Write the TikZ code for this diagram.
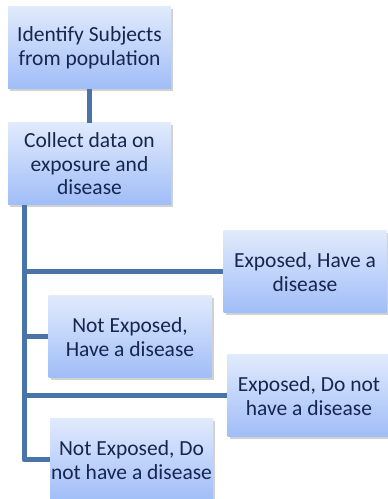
\documentclass[tikz,border=0pt]{standalone}
\usepackage{fontspec}
\setmainfont{Carlito}
\usetikzlibrary{shadows}
\definecolor{linec}{HTML}{4A73A8}
\definecolor{boxtop}{HTML}{E0EAFC}
\definecolor{boxbot}{HTML}{A0BDF8}
\definecolor{txt}{HTML}{17264F}
\tikzset{
  box/.style={draw=none, top color=boxtop, bottom color=boxbot,
    minimum width=163pt, minimum height=82pt, inner sep=1pt,
    align=center, text=txt,
    font=\fontsize{21.5pt}{23.5pt}\selectfont,
    drop shadow={shadow xshift=2pt, shadow yshift=-2pt, opacity=0.3, fill=black!60}},
  conn/.style={draw=linec, line width=5pt, line join=round}
}
\begin{document}
\begin{tikzpicture}[x=1pt,y=1pt]
\useasboundingbox (0,0) rectangle (388,499);
\node[box] (b1) at (89.5,451) {Identify Subjects\\from population};
\node[box] (b2) at (89.5,335) {Collect data on\\exposure and\\disease};
\node[box] (b3) at (305,227) {Exposed, Have a\\disease};
\node[box] (b4) at (130,162) {Not Exposed,\\Have a disease};
\node[box] (b5) at (309,103) {Exposed, Do not\\have a disease};
\node[box] (b6) at (131.5,39) {Not Exposed, Do\\not have a disease};
\coordinate (t) at (24,0);
\draw[conn] (b1.south) -- (b2.north);
\draw[conn] (b2.south -| t) |- (b6.west);
\draw[conn] (t |- b3.west) -- (b3.west);
\draw[conn] (t |- b4.west) -- (b4.west);
\draw[conn] (t |- b5.west) -- (b5.west);
\end{tikzpicture}
\end{document}
